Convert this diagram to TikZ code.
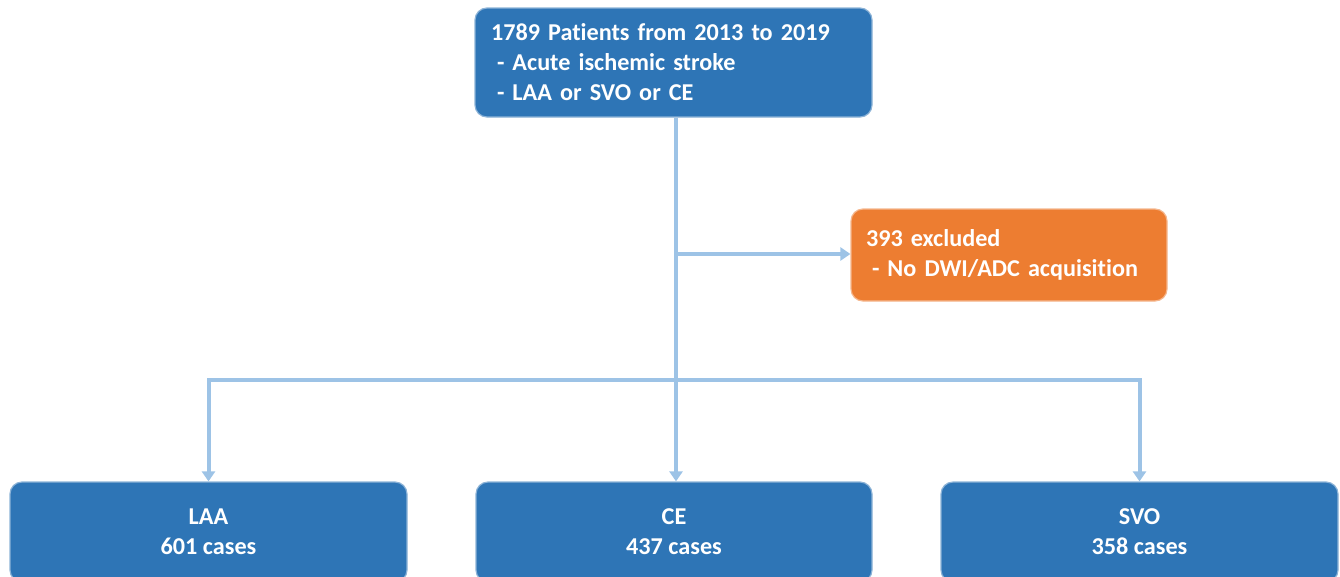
\documentclass[tikz,border=0pt]{standalone}
\usepackage{fontspec}
\setmainfont{Carlito}[Ligatures=NoCommon]
\usetikzlibrary{arrows.meta}
\definecolor{boxblue}{HTML}{2E75B6}
\definecolor{boxorange}{HTML}{ED7D31}
\definecolor{linkblue}{HTML}{9DC3E6}
\tikzset{
  bluebox/.style={draw=boxblue!55!white, line width=1.2pt, fill=boxblue, rounded corners=12pt,
    text=white, font=\fontsize{24.2}{30}\selectfont\bfseries, inner sep=0pt},
  orangebox/.style={bluebox, draw=boxorange!55!white, fill=boxorange},
  link/.style={draw=linkblue, line width=4pt},
  arrowlink/.style={link, -{Triangle[width=13pt,length=10pt]}}
}
\begin{document}
\begin{tikzpicture}[x=1pt,y=-1pt]
\useasboundingbox (0,0) rectangle (1340,576);
\clip (0,0) rectangle (1340,576);
\node[bluebox, minimum width=397pt, minimum height=109pt, text width=365pt, align=left]
  (top) at (673.5,62.5) {1789 Patients from 2013 to 2019\\\hspace*{6pt}- Acute ischemic stroke\\\hspace*{6pt}- LAA or SVO or CE};
\node[orangebox, minimum width=316pt, minimum height=92pt, text width=286pt, align=left]
  (excl) at (1009,255) {393 excluded\\\hspace*{6pt}- No DWI/ADC acquisition};
\node[bluebox, minimum width=397pt, minimum height=100pt, align=center]
  (laa) at (208.5,532) {LAA\\601 cases};
\node[bluebox, minimum width=396pt, minimum height=100pt, align=center]
  (ce) at (674,532) {CE\\437 cases};
\node[bluebox, minimum width=397pt, minimum height=100pt, align=center]
  (svo) at (1139.5,532) {SVO\\358 cases};
\coordinate (split) at (676,380);
\coordinate (branch) at (676,254);
\draw[link] (top.south -| split) -- (split);
\draw[arrowlink] (split) -- (ce.north -| split);
\draw[arrowlink] (branch) -- (excl.west |- branch);
\draw[link, line cap=rect] (split) -- (split -| laa.north);
\draw[link, line cap=rect] (split) -- (split -| svo.north);
\draw[arrowlink] (split -| laa.north) -- (laa.north);
\draw[arrowlink] (split -| svo.north) -- (svo.north);
\end{tikzpicture}
\end{document}
